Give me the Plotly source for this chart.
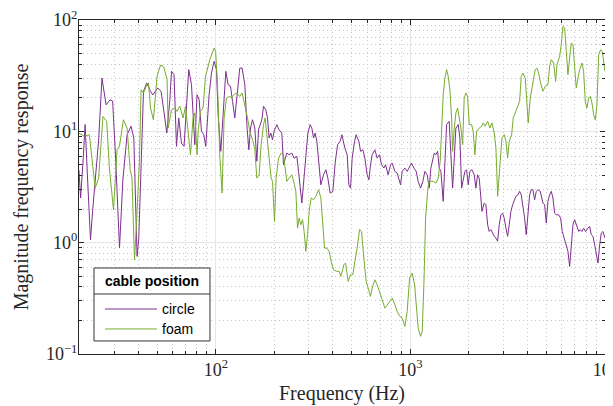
import plotly.graph_objects as go

# ---------------- data ----------------
circle_freq = [19.8, 20.2, 20.8, 21.3, 21.7, 22.7, 23.3, 24.3, 25.0, 26.0, 27.3, 28.6, 29.5, 30.6, 32.0, 33.3,
               35.0, 36.7, 37.9, 39.4, 40.2, 42.5, 44.2, 45.8, 47.4, 50.3, 52.3, 54.0, 56.0, 58.0,
               59.2, 61.0, 62.8, 64.5, 66.6, 68.7, 70.9, 72.6, 75.0, 76.4, 78.0, 80.1, 82.1, 84.4, 86.8, 88.8,
               92.4, 95.0, 98.0, 100.8, 102.8, 106.1, 109.0, 112.6, 115.7, 119.0, 121.9, 125.2, 128.7, 132.8,
               136.5, 141.0, 144.8, 147.8, 150.8, 154.4, 158.7,
               162.5, 165.8, 168.9, 172.4, 175.9, 180.7, 184.4, 187.9, 191.7, 195.6, 199.3, 205.8, 211.5, 218.4,
               222.8, 227.1, 231.7, 238.1, 245.9, 252.7, 260.9, 266.2, 276.8, 285.8, 291.2, 297.2, 305.3, 311.5,
               318.0, 324.0, 330.6, 337.3, 346.6, 357.9, 367.7, 376.5, 386.9, 399.5, 410.5, 422.4, 435.5, 444.4,
               460.4, 473.2, 482.8, 492.6, 502.0, 516.5, 526.4, 543.5, 554.5, 569.8, 583.4, 599.5, 611.7, 624.1,
               636.0, 656.7, 674.8, 694.3, 710.9, 730.5, 745.3, 768.6, 790.7, 806.0, 832.1, 855.1, 872.6, 890.2,
               907.4, 936.8, 962.7, 990.4, 1014, 1042, 1071, 1096, 1128, 1159, 1187,
               1220, 1249, 1274, 1301, 1326, 1352, 1380, 1406, 1435, 1474, 1504, 1535, 1582, 1615, 1648, 1680,
               1713, 1761, 1796, 1833, 1868, 1906, 1945, 1982, 2022, 2071, 2128, 2171, 2215, 2257, 2303, 2330,
               2394, 2443, 2493, 2541, 2593, 2645, 2696, 2751, 2807, 2861, 2919, 2978, 3035, 3097, 3160, 3220,
               3285, 3352, 3416, 3486, 3570,
               3641, 3711, 3786, 3864, 3937, 4018, 4099, 4178, 4262, 4349, 4433, 4522, 4647, 4798, 4895, 4990,
               5091, 5194, 5294, 5401, 5511, 5617, 5778, 5917, 6030, 6204, 6322, 6450, 6582, 6707, 6843, 6983,
               7116, 7321, 7462, 7613, 7767, 7953, 8174, 8340, 8499, 8673, 8849, 9018, 9202, 9388, 9569, 9763,
               9998]
circle_mag = [4.49, 2.52, 5.52, 11.5, 5.52, 1.06, 1.96, 4.40, 8.35, 30.1, 17.3, 19.2, 18.7, 5.52, 0.894, 3.65,
              9.32, 11.1, 8.71, 0.753, 1.10, 22.9, 27.2, 23.6, 21.2, 24.5, 22.9, 15.5, 9.65, 18.7,
              34.6, 32.3, 7.33, 13.2, 7.85, 7.33, 21.3, 35.8, 26.2, 13.2, 7.58, 21.3, 19.2, 10.0, 9.32, 7.33,
              21.3, 33.4, 42.6, 35.8, 14.1, 6.61, 13.2, 34.6, 26.2, 25.4, 18.6, 13.2, 21.3, 37.0,
              37.0, 26.2, 10.7, 6.83, 10.7, 12.7, 10.7,
              5.38, 10.3, 11.5, 12.7, 16.8, 15.6, 13.2, 8.71, 9.65, 8.40, 10.0, 11.5, 10.3, 9.65,
              5.01, 5.75, 6.38, 6.16, 6.38, 5.75, 5.96, 4.37, 2.27, 4.37, 6.38, 9.65, 11.5, 10.7,
              8.71, 9.65, 8.13, 5.75, 3.31, 4.07, 4.52, 3.80, 2.79, 2.89, 5.19, 7.58, 8.13, 9.32,
              7.08, 6.16, 3.31, 3.09, 5.75, 8.13, 9.32, 8.13, 6.61, 6.83, 5.75, 4.07, 3.67, 5.01,
              6.16, 6.83, 5.75, 6.16, 5.01, 4.68, 5.01, 4.07, 5.01, 5.19, 4.37, 4.22, 3.80, 3.31,
              4.37, 4.68, 4.37, 4.85, 5.19, 4.68, 4.37, 3.55, 3.09, 3.55, 4.37,
              4.07, 3.09, 4.68, 5.75, 6.38, 6.16, 6.61, 4.68, 4.37, 2.35, 5.75, 11.5, 12.3, 5.38, 3.09, 5.75,
              10.7, 11.5, 8.71, 3.09, 3.80, 4.37, 4.52, 3.31, 4.37, 4.52, 4.07, 3.09, 4.07, 3.80, 2.52, 1.91,
              2.27, 2.19, 1.45, 1.26, 1.31, 1.22, 1.14, 1.10, 1.03, 1.45, 1.78, 1.84, 1.66, 1.35, 1.14, 1.45,
              1.91, 2.19, 2.43, 2.61, 2.69,
              2.89, 2.69, 2.19, 1.66, 1.18, 1.91, 2.69, 2.99, 2.99, 2.43, 2.89, 2.99, 2.89, 2.27, 2.19, 1.50,
              2.35, 2.69, 2.89, 2.52, 1.84, 1.78, 1.78, 1.66, 1.26, 1.06, 0.957, 0.835, 0.612, 0.894, 1.45, 1.61,
              1.45, 1.26, 1.31, 1.26, 1.35, 1.26, 1.35, 1.40, 1.18, 1.14, 0.957, 0.778, 0.656, 0.957, 1.22, 1.26,
              1.10]

foam_freq = [19.8, 21.1, 22.4, 24.0, 25.0, 26.3, 27.5, 28.4, 29.8, 31.1, 32.0, 33.5, 35.0, 36.3, 37.1, 38.2,
             39.1, 40.5, 41.3, 42.5, 44.2, 45.1, 46.2, 47.8, 49.9, 52.0, 54.0, 56.2,
             56.9, 59.2, 61.5, 63.2, 65.3, 67.9, 69.9, 72.0, 74.1, 76.4, 78.0, 80.1, 81.1, 83.4, 86.0, 88.5,
             93.2, 98.0, 99.8, 102.0, 104.8, 107.7, 110.3, 113.5, 118.0, 120.4, 123.7, 127.8, 132.8, 136.5,
             141.0, 145.5, 149.5, 155.5, 158.7, 162.5,
             167.0, 171.0, 175.9, 179.2, 182.9, 187.9, 192.4, 195.6, 200.3, 204.2, 210.1, 216.6, 222.8, 227.1,
             231.7, 238.1, 245.9, 253.9, 257.8, 263.0, 268.1, 273.5, 279.1, 284.4, 290.2, 296.1, 301.8, 309.0,
             318.0, 326.7, 337.3, 346.6, 353.6, 362.1, 372.1, 382.4, 391.6, 402.8, 418.9, 430.5, 439.2,
             455.0, 464.2, 478.8, 492.6, 506.3, 518.2, 532.6, 548.0, 561.1, 576.6, 592.5, 606.7, 624.1, 636.0,
             656.7, 674.8, 694.3, 716.1, 739.2, 759.7, 781.6, 806.0, 832.1, 855.1, 882.9, 907.4, 936.8, 962.7,
             990.4, 1021, 1051, 1071, 1096, 1128, 1150, 1173, 1197, 1226, 1245,
             1274, 1309, 1352, 1390, 1423, 1447, 1474, 1504, 1535, 1564, 1596, 1628, 1648, 1680, 1713, 1748,
             1782, 1818, 1855, 1890, 1929, 1968, 2005, 2063, 2103, 2145, 2189, 2257, 2323, 2367, 2424, 2493,
             2563, 2624, 2696, 2751, 2807, 2884, 2953, 3035, 3097, 3160, 3220, 3313, 3376, 3457, 3570,
             3641, 3711, 3786, 3891, 3970, 4031, 4128, 4212, 4297, 4379, 4468, 4560, 4647, 4798, 4931, 5091,
             5194, 5294, 5446, 5577, 5664, 5848, 5959, 6080, 6204, 6322, 6450, 6582, 6707, 6843, 6983, 7116,
             7261, 7410, 7613, 7767, 7916, 8076, 8240, 8400, 8570, 8744, 8913, 9093, 9280, 9502, 9683, 9879,
             9998]
foam_mag = [9.65, 9.07, 9.32, 3.09, 3.80, 13.6, 12.3, 4.68, 1.97, 6.83, 7.38, 12.7, 10.7, 4.52, 3.80, 0.702,
            1.45, 5.38, 23.6, 22.1, 26.2, 27.2, 16.2, 12.7, 31.2, 39.4, 38.0, 29.1,
            10.7, 15.6, 16.2, 15.1, 16.8, 13.2, 16.8, 10.7, 6.16, 13.2, 14.6, 6.16, 10.0, 15.1, 16.2, 31.2,
            44.0, 56.0, 52.3, 26.2, 6.16, 2.79, 13.2, 19.9, 20.6, 19.9, 21.3, 22.1, 20.6, 22.1,
            17.3, 13.2, 10.0, 8.13, 6.83, 3.80,
            4.07, 7.58, 11.5, 13.2, 9.32, 5.75, 3.80, 3.55, 1.55, 3.80, 5.75, 6.38, 6.16, 4.68,
            3.55, 3.80, 4.07, 3.31, 2.89, 1.35, 1.66, 1.45, 1.61, 1.26, 0.835, 1.18, 1.91, 2.52,
            2.43, 2.61, 2.99, 2.52, 1.66, 0.894, 0.894, 0.835, 0.679, 0.571, 0.552, 0.552, 0.498,
            0.633, 0.656, 0.449, 0.515, 0.515, 0.679, 0.894, 1.31, 1.26, 0.727, 0.449, 0.391, 0.329, 0.391,
            0.464, 0.418, 0.365, 0.307, 0.258, 0.277, 0.297, 0.318, 0.277, 0.241, 0.218, 0.210, 0.177, 0.241,
            0.481, 0.533, 0.418, 0.277, 0.171, 0.144, 0.160, 0.418, 1.66, 2.89, 3.55,
            3.55, 3.55, 3.43, 3.80, 5.38, 9.32, 21.3, 30.1, 35.8, 31.2, 23.6, 13.2, 6.61, 10.7, 14.6, 16.2,
            13.6, 10.7, 7.58, 19.9, 22.1, 20.6, 11.5, 11.5, 10.0, 6.16, 10.0, 10.7, 11.1, 11.9, 11.1, 12.3,
            10.7, 11.9, 9.65, 7.08, 2.61, 5.38, 8.71, 9.32, 8.13, 5.75, 8.13, 9.32, 13.2, 14.6, 17.3,
            18.6, 31.2, 33.4, 30.1, 17.3, 11.9, 19.9, 24.5, 32.3, 35.8, 37.0, 33.4, 28.1, 22.9, 25.4, 26.2,
            38.4, 44.0, 41.1, 28.1, 39.7, 47.2, 60.0, 87.8, 84.8, 56.0, 32.3, 45.6, 62.1, 60.0, 39.7, 24.5,
            30.1, 35.8, 41.1, 34.6, 18.6, 16.2, 19.9, 20.6, 17.96, 14.1, 12.7, 17.3, 48.8, 54.1, 52.3, 37.0,
            34.6]

series_names = ["circle", "foam"]
series_colors = ["#7E2F8E", "#77AC30"]

x_major = [100, 1000, 10000]
x_major_text = ["10<sup>2</sup>", "10<sup>3</sup>", "10<sup>4</sup>"]
y_major = [0.1, 1, 10, 100]
y_major_text = ["10<sup>\u22121</sup>", "10<sup>0</sup>", "10<sup>1</sup>", "10<sup>2</sup>"]
x_minor = [m * d for d in (10, 100, 1000) for m in range(2, 10)]
y_minor = [m * d for d in (0.1, 1, 10) for m in range(2, 10)]

legend_title = "cable position"
x_title = "Frequency (Hz)"
y_title = "Magnitude frequency response"

# ---------------- figure ----------------
fig = go.Figure()
for name, xs, ys, col in [("circle", circle_freq, circle_mag, series_colors[0]),
                          ("foam", foam_freq, foam_mag, series_colors[1])]:
    fig.add_trace(go.Scatter(x=xs, y=ys, mode="lines", name=name,
                             line=dict(color=col, width=1), showlegend=False))

serif = "Liberation Serif, DejaVu Serif, serif"
sans = "Liberation Sans, Arial, sans-serif"
txt = "#262626"

axis_common = dict(type="log", showline=True, linecolor="#262626", linewidth=1, mirror="allticks",
                   ticks="inside", ticklen=5, tickcolor="#262626", showgrid=True,
                   gridcolor="#e6e6e6", gridwidth=1, zeroline=False, automargin=False,
                   ticklabeloverflow="allow",
                   tickfont=dict(family=serif, size=18, color=txt))
minor_common = dict(tickmode="array", ticks="inside", ticklen=3, tickcolor="#262626",
                    showgrid=True, gridcolor="#c8c8c8", griddash="1px,3px", gridwidth=1)

fig.update_xaxes(**axis_common, range=[1.297, 4.0], tickmode="array", tickvals=x_major,
                 ticktext=x_major_text, ticklabelstandoff=-1,
                 title=dict(text=x_title, font=dict(family=serif, size=20, color=txt), standoff=7),
                 minor=dict(tickvals=x_minor, **minor_common))
fig.update_yaxes(**axis_common, range=[-1, 2], tickmode="array", tickvals=y_major,
                 ticktext=y_major_text, ticklabelstandoff=-3,
                 title=dict(text=y_title, font=dict(family=serif, size=20, color=txt), standoff=11),
                 minor=dict(tickvals=y_minor, **minor_common))

# ---- manual legend (box, title, separator, samples) ----
bx0, bx1, by0, by1 = 0.0285, 0.249, 0.039, 0.2575
sep_y = 0.1796
fig.add_shape(type="rect", xref="paper", yref="paper", x0=bx0, x1=bx1, y0=by0, y1=by1,
              line=dict(color="#333", width=1), fillcolor="white", layer="above")
fig.add_shape(type="line", xref="paper", yref="paper", x0=bx0, x1=bx1, y0=sep_y, y1=sep_y,
              line=dict(color="#333", width=1), layer="above")
fig.add_annotation(xref="paper", yref="paper", x=(bx0 + bx1) / 2, y=0.2186, text="<b>" + legend_title + "</b>",
                   showarrow=False, xanchor="center", yanchor="middle",
                   font=dict(family=sans, size=14, color="black"))
for i, (name, col) in enumerate(zip(series_names, series_colors)):
    yy = [0.1347, 0.0749][i]
    fig.add_shape(type="line", xref="paper", yref="paper", x0=0.0494, x1=0.1483, y0=yy, y1=yy,
                  line=dict(color=col, width=1), layer="above")
    fig.add_annotation(xref="paper", yref="paper", x=0.154, y=yy, text=name, showarrow=False,
                       xanchor="left", yanchor="middle", font=dict(family=sans, size=14, color="black"))

# the page body adds an 8px offset, so the figure is sized to leave the plot area where the reference has it
fig.update_layout(width=605, height=398, margin=dict(l=71, r=8, t=12, b=52),
                  plot_bgcolor="white", paper_bgcolor="white", hovermode=False)

fig.write_html("out.html")
